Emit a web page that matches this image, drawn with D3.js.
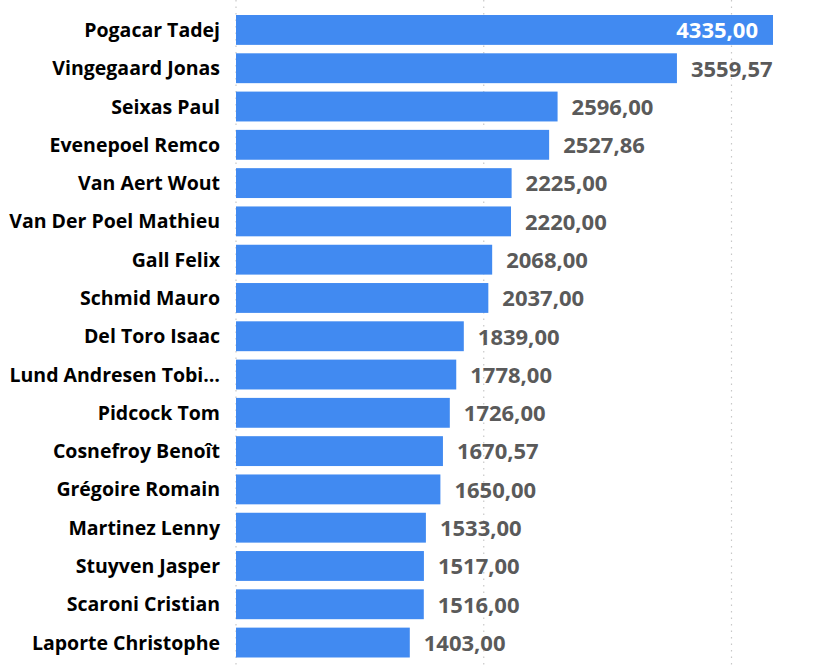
<!DOCTYPE html>
<html>
<head>
<meta charset="utf-8">
<script src="https://cdn.jsdelivr.net/npm/d3@7"></script>
<style>
  html, body { margin: 0; padding: 0; background: #fff; }
  svg text { font-family: "Open Sans", "Noto Sans", sans-serif; font-weight: bold; }
</style>
</head>
<body>
<div id="chart"></div>
<script>
var riders = ['Pogacar Tadej', 'Vingegaard Jonas', 'Seixas Paul', 'Evenepoel Remco',
    'Van Aert Wout', 'Van Der Poel Mathieu', 'Gall Felix', 'Schmid Mauro',
    'Del Toro Isaac', 'Lund Andresen Tobi…', 'Pidcock Tom', 'Cosnefroy Benoît',
    'Grégoire Romain', 'Martinez Lenny', 'Stuyven Jasper', 'Scaroni Cristian',
    'Laporte Christophe'];
var points = [4335.00, 3559.57, 2596.00, 2527.86, 2225.00, 2220.00, 2068.00, 2037.00,
    1839.00, 1778.00, 1726.00, 1670.57, 1650.00, 1533.00, 1517.00, 1516.00, 1403.00];
var gridTicks = [0, 2000, 4000];

var width  = 827,
    height = 670,
    left   = 236,
    svg    = d3.select('#chart').append('svg')
        .attr('width', width)
        .attr('height', height);

var x = d3.scaleLinear().domain([0, 4000]).range([left, 731.5]);
var y = d3.scaleBand().domain(riders).range([10.8, 661.7])
    .paddingInner(0.22).paddingOuter(0.11);

var fmt = function(v) { return v.toFixed(2).replace('.', ','); };

// dotted gridlines
svg.selectAll('line.grid')
    .data(gridTicks)
    .enter()
    .append('line')
    .attr('class', 'grid')
    .attr('x1', function(d) { return x(d); })
    .attr('x2', function(d) { return x(d); })
    .attr('y1', 0)
    .attr('y2', 665)
    .style('stroke', '#c8c8c8')
    .style('stroke-width', 1.2)
    .style('stroke-dasharray', '1.5,5');

svg.selectAll('rect.bar')
    .data(points)
    .enter()
    .append('rect')
    .attr('class', 'bar')
    .attr('x', x(0))
    .attr('y', function(d, i) { return y(riders[i]); })
    .attr('width', function(d) { return x(d) - x(0); })
    .attr('height', y.bandwidth())
    .style('fill', '#418af1');

svg.selectAll('text.name')
    .data(riders)
    .enter()
    .append('text')
    .attr('class', 'name')
    .attr('x', 220)
    .attr('y', function(d) { return y(d) + y.bandwidth() / 2; })
    .attr('dy', '0.36em')
    .attr('text-anchor', 'end')
    .style('font-size', '19.5px')
    .style('fill', '#000')
    .text(function(d) { return d; });

// value labels: outside the bar unless it would run off the page
svg.selectAll('text.value')
    .data(points)
    .enter()
    .append('text')
    .attr('class', 'value')
    .attr('y', function(d, i) { return y(riders[i]) + y.bandwidth() / 2; })
    .attr('dy', '0.38em')
    .style('font-size', '22px')
    .text(function(d) { return fmt(d); })
    .each(function(d) {
        var el = d3.select(this),
            w = this.getComputedTextLength();
        if (x(d) + 14 + w > width - 40) {
            el.attr('x', x(d) - 15).attr('text-anchor', 'end').style('fill', '#fff');
        } else {
            el.attr('x', x(d) + 14).attr('text-anchor', 'start').style('fill', '#5a5a5a');
        }
    });
</script>
</body>
</html>
